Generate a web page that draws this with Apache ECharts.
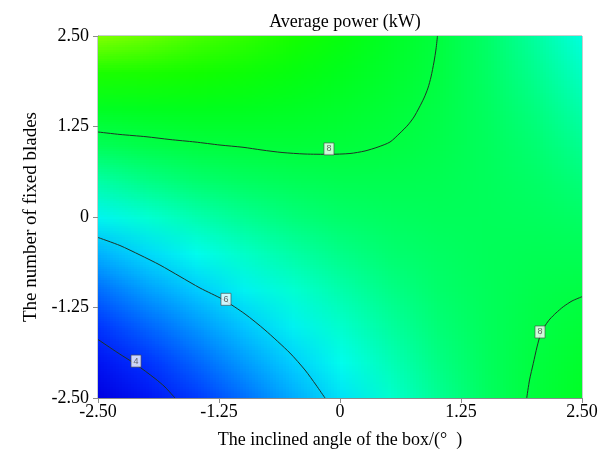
<!DOCTYPE html>
<html>
<head>
<meta charset="utf-8">
<script src="https://cdn.jsdelivr.net/npm/echarts@6/dist/echarts.min.js"></script>
<style>
  html, body { margin: 0; padding: 0; background: #ffffff; }
  #chart { width: 609px; height: 460px; }
</style>
</head>
<body>
<div id="chart"></div>
<script>
// Factor levels (coded) at which the response surface is tabulated
const angleLevels = [-2.5, -2, -1.5, -1, -0.5, 0, 0.5, 1, 1.5, 2, 2.5];
const bladeLevels = [2.5, 2, 1.5, 1, 0.5, 0, -0.5, -1, -1.5, -2, -2.5];

// Average power (kW); one row per blade level (top to bottom), one column per angle level
const averagePower = [
  [9.75, 9.64, 9.49, 9.29, 9.04, 8.75, 8.41, 8.03, 7.60, 7.13, 6.61],
  [9.10, 9.07, 9.01, 8.89, 8.73, 8.53, 8.28, 7.99, 7.64, 7.26, 6.83],
  [8.43, 8.50, 8.52, 8.49, 8.42, 8.30, 8.14, 7.93, 7.68, 7.38, 7.04],
  [7.76, 7.91, 8.02, 8.08, 8.10, 8.07, 7.99, 7.87, 7.71, 7.49, 7.24],
  [7.08, 7.32, 7.51, 7.66, 7.76, 7.82, 7.83, 7.80, 7.72, 7.60, 7.43],
  [6.39, 6.71, 7.00, 7.23, 7.42, 7.57, 7.67, 7.73, 7.73, 7.70, 7.62],
  [5.69, 6.10, 6.47, 6.80, 7.08, 7.31, 7.50, 7.64, 7.74, 7.79, 7.79],
  [4.98, 5.49, 5.94, 6.36, 6.72, 7.04, 7.32, 7.55, 7.73, 7.87, 7.96],
  [4.27, 4.86, 5.40, 5.90, 6.36, 6.77, 7.13, 7.45, 7.72, 7.94, 8.12],
  [3.55, 4.23, 4.86, 5.45, 5.99, 6.48, 6.93, 7.34, 7.70, 8.01, 8.28],
  [2.82, 3.58, 4.30, 4.98, 5.61, 6.19, 6.73, 7.22, 7.67, 8.07, 8.42]
];

// Contour lines [angle, blades]
const contour4 = [[-2.5, -1.692], [-2.293, -1.878], [-2.107, -2.037], [-1.911, -2.231],
                  [-1.808, -2.348], [-1.705, -2.5]];
const contour6 = [[-2.5, -0.283], [-2.273, -0.394], [-2.066, -0.525], [-1.860, -0.663],
                  [-1.653, -0.822], [-1.446, -0.981], [-1.209, -1.140], [-0.981, -1.340],
                  [-0.775, -1.561], [-0.517, -1.879], [-0.362, -2.113], [-0.248, -2.320],
                  [-0.155, -2.5]];
const contour8Upper = [[-2.5, 1.174], [-2.273, 1.140], [-2.004, 1.109], [-1.756, 1.070],
                       [-1.498, 1.036], [-1.240, 0.994], [-1.002, 0.963], [-0.806, 0.925],
                       [-0.599, 0.891], [-0.362, 0.870], [-0.114, 0.866], [0.103, 0.877],
                       [0.258, 0.912], [0.393, 0.967], [0.517, 1.036], [0.620, 1.160],
                       [0.702, 1.271], [0.764, 1.381], [0.816, 1.506], [0.868, 1.644],
                       [0.909, 1.782], [0.940, 1.934], [0.971, 2.141], [0.992, 2.32],
                       [1.007, 2.5]];
const contour8Lower = [[1.929, -2.5], [1.958, -2.251], [1.997, -2.021], [2.035, -1.796],
                       [2.076, -1.602], [2.123, -1.492], [2.169, -1.409], [2.231, -1.326],
                       [2.307, -1.239], [2.397, -1.160], [2.5, -1.101]];

// Contour value tags [angle, blades, text]
const contourTags = [[-0.114, 0.94, '8'], [-1.178, -1.137, '6'], [-2.107, -1.99, '4'], [2.066, -1.588, '8']];

const axisTicks = [-2.5, -1.25, 0, 1.25, 2.5];

// Colour ramp: blue -> cyan -> green -> yellow-green
const rampStops = [
  [2.8, [0, 0, 224]], [4.0, [0, 32, 255]], [5.0, [0, 112, 255]], [6.0, [0, 208, 255]],
  [6.5, [0, 255, 236]], [7.0, [0, 255, 176]], [7.5, [0, 255, 112]], [8.0, [0, 255, 64]],
  [8.6, [0, 255, 24]], [9.0, [16, 255, 0]], [9.5, [70, 255, 0]], [9.8, [136, 255, 0]]
];
function rampColor(v) {
  if (v <= rampStops[0][0]) return rampStops[0][1];
  for (let i = 1; i < rampStops.length; i++) {
    if (v <= rampStops[i][0]) {
      const a = rampStops[i - 1], b = rampStops[i];
      const t = (v - a[0]) / (b[0] - a[0]);
      return a[1].map((c, k) => Math.round(c + (b[1][k] - c) * t));
    }
  }
  return rampStops[rampStops.length - 1][1];
}

// One pixel per tabulated value; the browser smooths it when scaled to the plot
const surface = document.createElement('canvas');
surface.width = angleLevels.length;
surface.height = bladeLevels.length;
(function paintSurface() {
  const ctx = surface.getContext('2d');
  const img = ctx.createImageData(surface.width, surface.height);
  averagePower.forEach((row, r) => {
    row.forEach((v, c) => {
      const rgb = rampColor(v);
      const o = (r * surface.width + c) * 4;
      img.data[o] = rgb[0]; img.data[o + 1] = rgb[1]; img.data[o + 2] = rgb[2]; img.data[o + 3] = 255;
    });
  });
  ctx.putImageData(img, 0, 0);
})();

const serif = 'Liberation Serif';
const tickFmt = v => (Math.abs(v) < 1e-9 ? '0' : v.toFixed(2));

function contourLine(data) {
  return {
    type: 'line', data: data, smooth: 0.25, symbol: 'none', silent: true, z: 3,
    lineStyle: { color: '#1f3327', width: 1 }
  };
}

const chart = echarts.init(document.getElementById('chart'), null, { renderer: 'canvas' });
chart.setOption({
  animation: false,
  backgroundColor: '#ffffff',
  title: {
    text: 'Average power (kW)', left: 340, top: 8, textAlign: 'center',
    textStyle: { fontFamily: serif, fontSize: 18, fontWeight: 'normal', color: '#000' }
  },
  grid: {
    left: 98, right: 27, top: 36, bottom: 62, show: true,
    borderColor: '#8c9c9c', borderWidth: 1, backgroundColor: 'transparent'
  },
  xAxis: {
    type: 'value', min: axisTicks[0], max: axisTicks[axisTicks.length - 1], interval: 1.25,
    name: 'The inclined angle of the box/(°  )', nameLocation: 'middle', nameGap: 33,
    nameTextStyle: { fontFamily: serif, fontSize: 18, color: '#000' },
    axisLine: { show: true, onZero: false, lineStyle: { color: '#8c8c8c' } },
    axisTick: { show: true, length: 5, lineStyle: { color: '#8c8c8c' } },
    axisLabel: { formatter: tickFmt, fontFamily: serif, fontSize: 18, color: '#000', margin: 5 },
    splitLine: { show: false }
  },
  yAxis: {
    type: 'value', min: axisTicks[0], max: axisTicks[axisTicks.length - 1], interval: 1.25,
    name: 'The number of fixed blades', nameLocation: 'middle', nameGap: 53,
    nameTextStyle: { fontFamily: serif, fontSize: 19, color: '#000' },
    axisLine: { show: true, onZero: false, lineStyle: { color: '#8c8c8c' } },
    axisTick: { show: true, length: 5, lineStyle: { color: '#8c8c8c' } },
    axisLabel: { formatter: tickFmt, fontFamily: serif, fontSize: 18, color: '#000', margin: 9 },
    splitLine: { show: false }
  },
  series: [
    {
      type: 'custom', clip: true, silent: true, z: 1,
      data: [[angleLevels[0], bladeLevels[0]]],
      renderItem: function (params, api) {
        const hx = (angleLevels[1] - angleLevels[0]) / 2;
        const hy = (bladeLevels[0] - bladeLevels[1]) / 2;
        const p0 = api.coord([angleLevels[0] - hx, bladeLevels[0] + hy]);
        const p1 = api.coord([angleLevels[angleLevels.length - 1] + hx, bladeLevels[bladeLevels.length - 1] - hy]);
        return {
          type: 'image',
          style: { image: surface, x: p0[0], y: p0[1], width: p1[0] - p0[0], height: p1[1] - p0[1] }
        };
      }
    },
    contourLine(contour4),
    contourLine(contour6),
    contourLine(contour8Upper),
    contourLine(contour8Lower),
    {
      type: 'scatter', data: contourTags, silent: true, z: 5,
      symbol: 'rect', symbolSize: [10, 12],
      itemStyle: { color: '#ffffff', borderColor: '#4a4a4a', borderWidth: 0.8 },
      label: {
        show: true, position: 'inside', formatter: p => p.value[2],
        fontFamily: 'Liberation Sans', fontSize: 9, color: '#444'
      }
    }
  ]
});
</script>
</body>
</html>
